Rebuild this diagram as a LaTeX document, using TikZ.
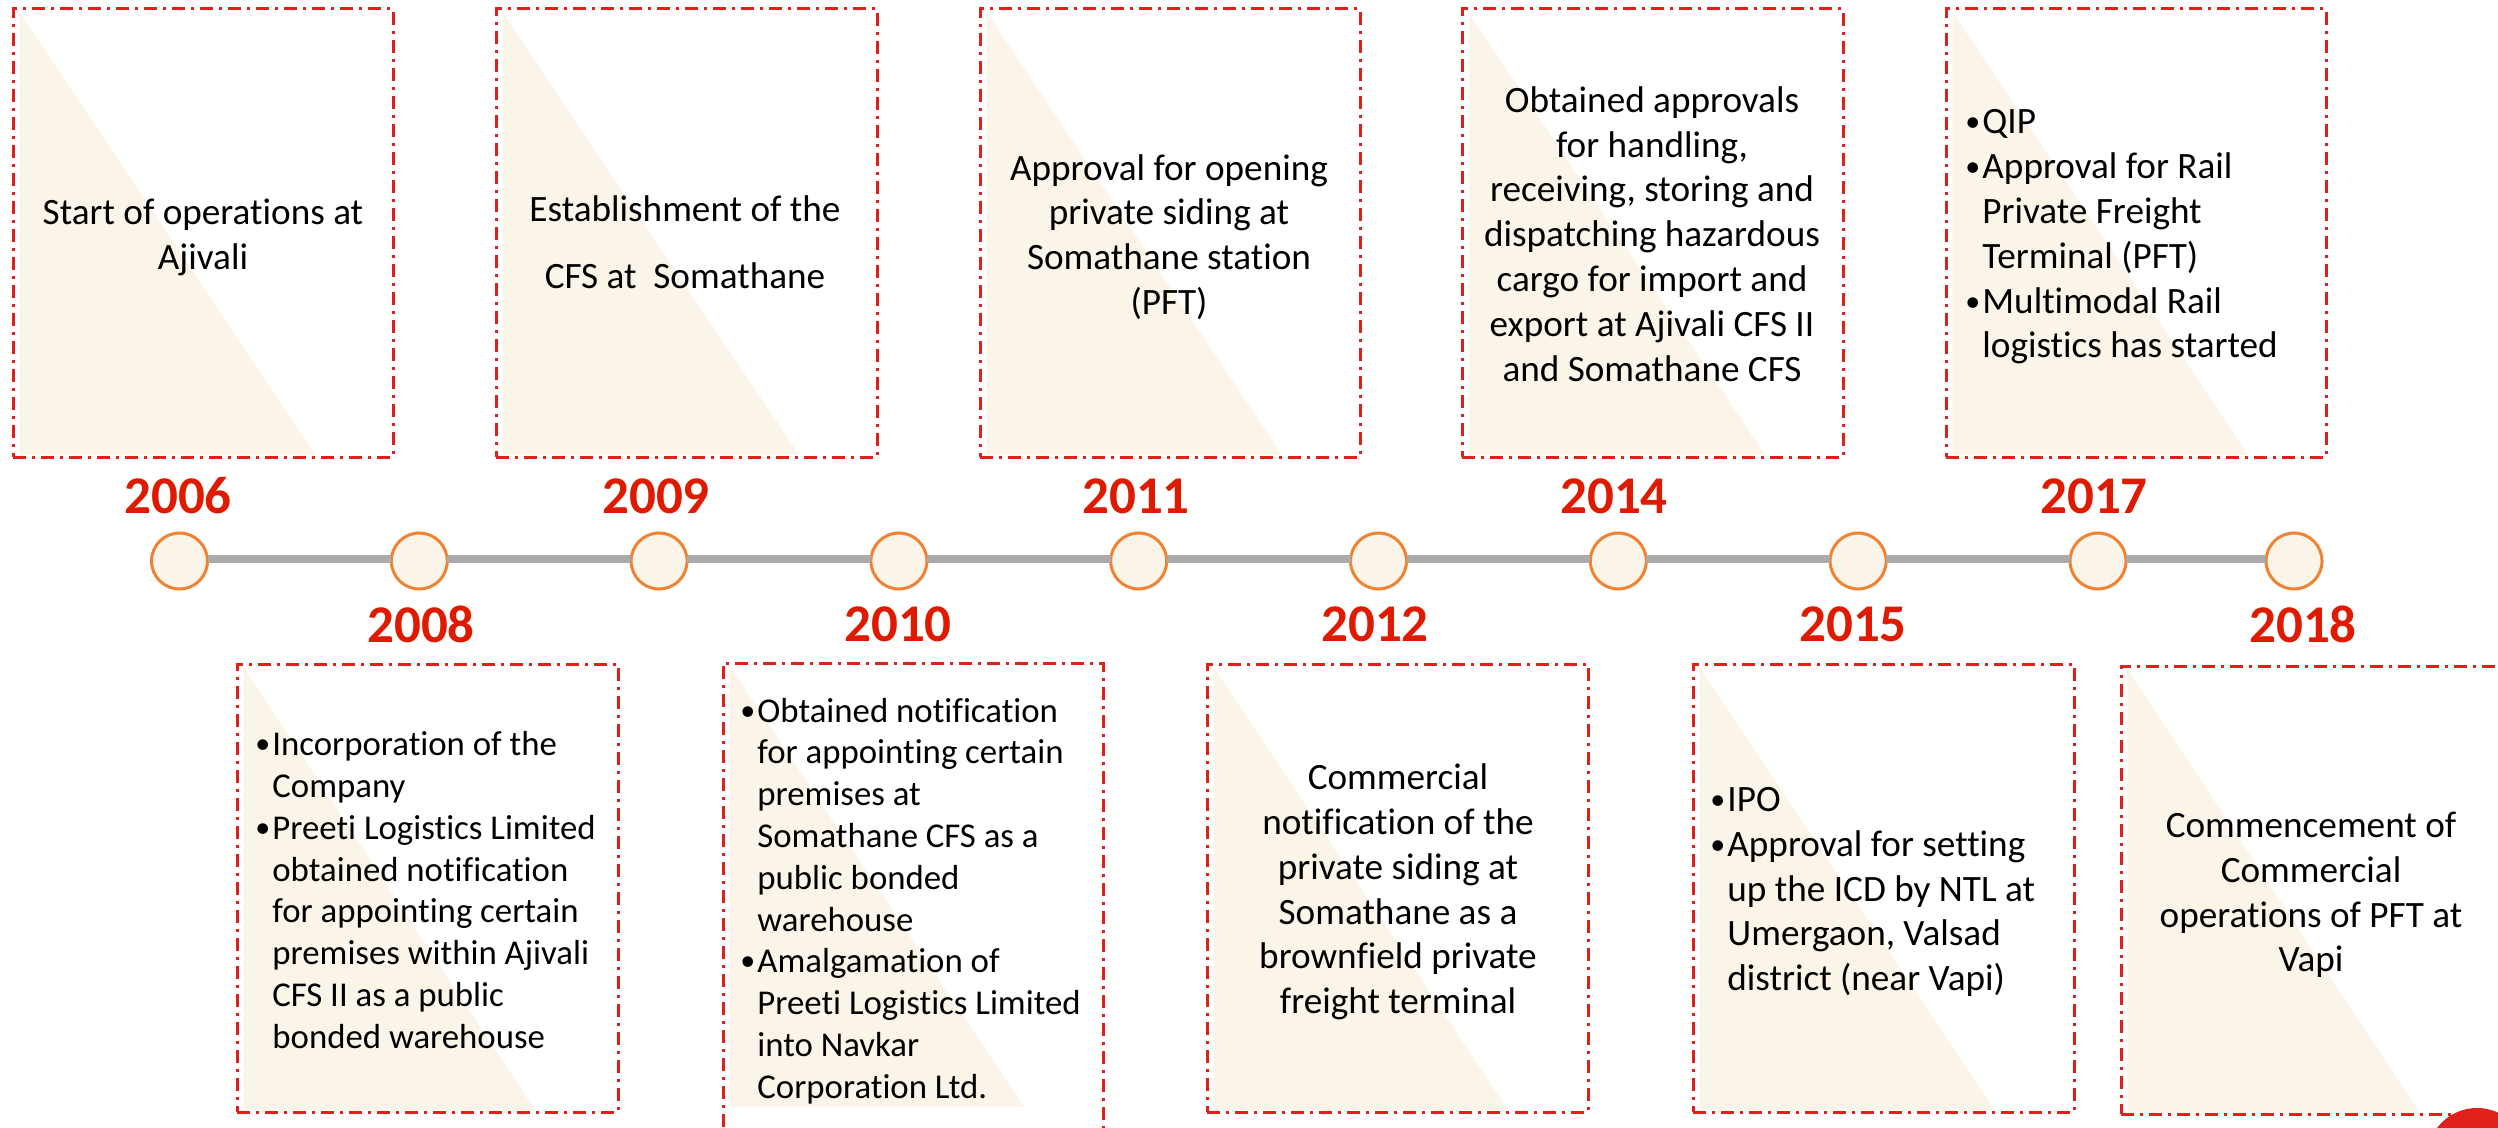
\documentclass[tikz,border=0pt]{standalone}
\usepackage{fontspec}
\setmainfont{Carlito}[Ligatures=NoCommon]
\usetikzlibrary{calc}
\definecolor{redline}{HTML}{E0201A}
\definecolor{yearred}{HTML}{DE1B00}
\definecolor{cream}{HTML}{FBF5E9}
\definecolor{ringo}{HTML}{F08233}
\definecolor{railgrey}{HTML}{ABA9A9}
\tikzset{
  framebox/.style={draw=redline,line width=1.5pt,inner sep=0pt,outer sep=0pt,
    dash pattern=on 6.5pt off 3pt on 1.5pt off 3pt},
  yearlabel/.style={font=\fontsize{26.5}{30}\selectfont\bfseries,text=yearred,inner sep=0pt},
  milestone/.style={circle,draw=ringo,fill=cream,line width=1.5pt,minimum size=28pt,inner sep=0pt,outer sep=0pt},
  rail/.style={draw=railgrey,line width=4pt},
  bodyC/.style={font=\fontsize{18.6}{22.4}\selectfont,align=center,inner sep=0pt,text=black},
  bodyL/.style={font=\fontsize{18.6}{22.4}\selectfont,align=left,inner sep=0pt,text=black,anchor=west},
  bodyT/.style={font=\fontsize{17.4}{20.9}\selectfont,align=left,inner sep=0pt,text=black,anchor=west},
}
\newcommand{\bul}{\llap{\raisebox{1pt}{\fontsize{15}{15}\selectfont•}\hspace{1pt}}}
% name, x1, y1, x2, y2, triangle x2, triangle y2
\newcommand{\panel}[7]{%
  \fill[cream] (#2+6.5,#3+3) -- (#2+6.5,#7) -- (#6,#7) -- cycle;
  \node[framebox,minimum width={(#4-#2)*0.5pt},minimum height={(#5-#3)*0.5pt}] (#1) at ({(#2+#4)/2},{(#3+#5)/2}) {};
}
\begin{document}
\begin{tikzpicture}[x=0.5pt,y=-0.5pt]
\useasboundingbox (0,0) rectangle (2498,1128);
\clip (0,0) rectangle (2498,1128);
\panel{p06}{13}{9}{393}{457}{316}{455}
\panel{p09}{496}{9}{877}{457}{799}{455}
\panel{p11}{980}{9}{1360}{457}{1282}{455}
\panel{p14}{1462}{9}{1843}{457}{1765}{455}
\panel{p17}{1946}{9}{2326}{457}{2248}{455}
\panel{p08}{237}{664}{618}{1112}{535}{1110}
\panel{p10}{723}{663}{1103}{1160}{1024}{1107}
\panel{p12}{1207}{664}{1588}{1112}{1508}{1110}
\panel{p15}{1693}{664}{2074}{1112}{1995}{1110}
\panel{p18}{2121}{666}{2560}{1114}{2420}{1113}
\fill[redline] (2477,1158) circle[radius=50];

\node[bodyC] (t06) at (203,237) {Start of operations at\\Ajivali};
\node[bodyC,font=\fontsize{18.6}{33.5}\selectfont] (t09) at (685,242) {Establishment of the\\CFS at\ \ Somathane};
\node[bodyC] (t11) at (1169,237) {Approval for opening\\private siding at\\Somathane station\\(PFT)};
\node[bodyC] (t14) at (1652,234) {Obtained approvals\\for handling,\\receiving, storing and\\dispatching hazardous\\cargo for import and\\export at Ajivali CFS II\\and Somathane CFS};
\node[bodyL] (t17) at (1982,237) {\bul QIP\\\bul Approval for Rail\\Private Freight\\Terminal (PFT)\\\bul Multimodal Rail\\logistics has started};
\node[bodyT] (t08) at (272,890) {\bul Incorporation of the\\Company\\\bul Preeti Logistics Limited\\obtained notification\\for appointing certain\\premises within Ajivali\\CFS II as a public\\bonded warehouse};
\node[bodyT] (t10) at (757,901) {\bul Obtained notification\\for appointing certain\\premises at\\Somathane CFS as a\\public bonded\\warehouse\\\bul Amalgamation of\\Preeti Logistics Limited\\into Navkar\\Corporation Ltd.};
\node[bodyC] (t12) at (1398,892) {Commercial\\notification of the\\private siding at\\Somathane as a\\brownfield private\\freight terminal};
\node[bodyL] (t15) at (1727,892) {\bul IPO\\\bul Approval for setting\\up the ICD by NTL at\\Umergaon, Valsad\\district (near Vapi)};
\node[bodyC] (t18) at (2311,895) {Commencement of\\Commercial\\operations of PFT at\\Vapi};

\node[yearlabel] (y06) at (178,496) {2006};
\node[yearlabel] (y09) at (656,496) {2009};
\node[yearlabel] (y11) at (1136,496) {2011};
\node[yearlabel] (y14) at (1614,496) {2014};
\node[yearlabel] (y17) at (2094,496) {2017};
\node[yearlabel] (y08) at (421,624) {2008};
\node[yearlabel] (y10) at (898,624) {2010};
\node[yearlabel] (y12) at (1375,624) {2012};
\node[yearlabel] (y15) at (1853,624) {2015};
\node[yearlabel] (y18) at (2303,624) {2018};

\foreach \n/\x in {a/179.5,b/419.3,c/659.1,d/898.9,e/1138.7,f/1378.5,g/1618.3,h/1858.1,i/2098,j/2294}
  \node[milestone] (\n) at (\x,561) {};
\foreach \p/\q in {a/b,b/c,c/d,d/e,e/f,f/g,g/h,h/i,i/j}
  \draw[rail] ([yshift=1pt]\p.east) -- ([yshift=1pt]\q.west);
\end{tikzpicture}
\end{document}
